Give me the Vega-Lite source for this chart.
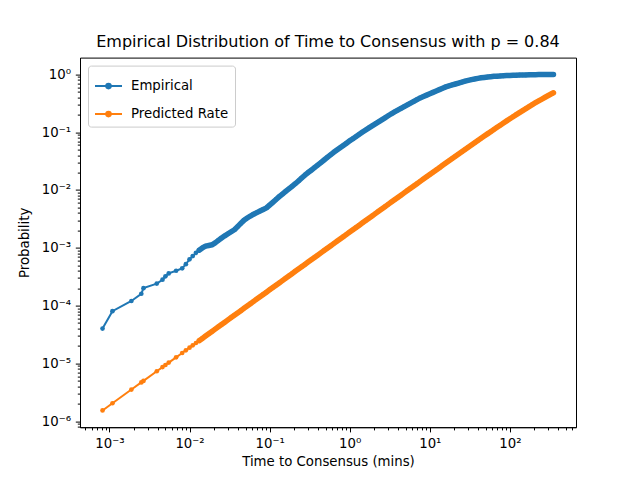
{
"$schema": "https://vega.github.io/schema/vega-lite/v6.json",
"width": 496, "height": 369.6,
"autosize": "none",
"padding": {"left": 80, "top": 57.6, "right": 64, "bottom": 52.8},
"title": {"text": "Empirical Distribution of Time to Consensus with p = 0.84", "fontSize": 16, "font": "DejaVu Sans", "fontWeight": "normal", "color": "black", "offset": 8},
"data": {"values": [
{"t":0.00082,"e":4e-5,"r":1.53e-6},
{"t":0.00109,"e":8e-5,"r":2.04e-6},
{"t":0.00188,"e":1.2e-4,"r":3.52e-6},
{"t":0.0025,"e":1.6e-4,"r":4.68e-6},
{"t":0.00266,"e":2e-4,"r":4.97e-6},
{"t":0.0039,"e":2.4e-4,"r":7.29e-6},
{"t":0.0046,"e":2.8e-4,"r":8.6e-6},
{"t":0.005,"e":3.2e-4,"r":9.35e-6},
{"t":0.0055,"e":3.6e-4,"r":1.03e-5},
{"t":0.0068,"e":4e-4,"r":1.27e-5},
{"t":0.0081,"e":4.4e-4,"r":1.51e-5},
{"t":0.009,"e":5.2e-4,"r":1.68e-5},
{"t":0.01,"e":6.31e-4,"r":1.87e-5},
{"t":0.010965,"e":7.18e-4,"r":2.05e-5},
{"t":0.012023,"e":8.17e-4,"r":2.25e-5},
{"t":0.013183,"e":9.1e-4,"r":2.47e-5},
{"t":0.014454,"e":9.95e-4,"r":2.7e-5},
{"t":0.015849,"e":1.067e-3,"r":2.96e-5},
{"t":0.017378,"e":1.094e-3,"r":3.25e-5},
{"t":0.019055,"e":1.125e-3,"r":3.56e-5},
{"t":0.020893,"e":1.217e-3,"r":3.91e-5},
{"t":0.022909,"e":1.34e-3,"r":4.28e-5},
{"t":0.025119,"e":1.476e-3,"r":4.7e-5},
{"t":0.027542,"e":1.61e-3,"r":5.15e-5},
{"t":0.0302,"e":1.746e-3,"r":5.65e-5},
{"t":0.033113,"e":1.892e-3,"r":6.19e-5},
{"t":0.036308,"e":2.05e-3,"r":6.79e-5},
{"t":0.039811,"e":2.32e-3,"r":7.44e-5},
{"t":0.043652,"e":2.64e-3,"r":8.16e-5},
{"t":0.047863,"e":3.0e-3,"r":8.95e-5},
{"t":0.052481,"e":3.27e-3,"r":9.81e-5},
{"t":0.057544,"e":3.54e-3,"r":1.076e-4},
{"t":0.063096,"e":3.81e-3,"r":1.18e-4},
{"t":0.069183,"e":4.06e-3,"r":1.294e-4},
{"t":0.075858,"e":4.32e-3,"r":1.419e-4},
{"t":0.083176,"e":4.6e-3,"r":1.555e-4},
{"t":0.091201,"e":4.9e-3,"r":1.705e-4},
{"t":0.1,"e":5.48e-3,"r":1.87e-4},
{"t":0.10965,"e":6.12e-3,"r":2.05e-4},
{"t":0.12023,"e":6.85e-3,"r":2.25e-4},
{"t":0.13183,"e":7.67e-3,"r":2.465e-4},
{"t":0.14454,"e":8.51e-3,"r":2.7e-4},
{"t":0.15849,"e":9.44e-3,"r":2.96e-4},
{"t":0.17378,"e":1.045e-2,"r":3.25e-4},
{"t":0.19055,"e":1.158e-2,"r":3.56e-4},
{"t":0.20893,"e":1.283e-2,"r":3.91e-4},
{"t":0.22909,"e":1.432e-2,"r":4.28e-4},
{"t":0.25119,"e":1.607e-2,"r":4.7e-4},
{"t":0.27542,"e":1.8e-2,"r":5.15e-4},
{"t":0.302,"e":2.0e-2,"r":5.65e-4},
{"t":0.33113,"e":2.2e-2,"r":6.19e-4},
{"t":0.36308,"e":2.43e-2,"r":6.79e-4},
{"t":0.39811,"e":2.69e-2,"r":7.44e-4},
{"t":0.43652,"e":2.98e-2,"r":8.16e-4},
{"t":0.47863,"e":3.3e-2,"r":8.95e-4},
{"t":0.52481,"e":3.66e-2,"r":9.81e-4},
{"t":0.57544,"e":4.05e-2,"r":1.076e-3},
{"t":0.63096,"e":4.48e-2,"r":1.18e-3},
{"t":0.69183,"e":4.91e-2,"r":1.293e-3},
{"t":0.75858,"e":5.38e-2,"r":1.418e-3},
{"t":0.83176,"e":5.89e-2,"r":1.554e-3},
{"t":0.91201,"e":6.46e-2,"r":1.704e-3},
{"t":1,"e":7.08e-2,"r":1.868e-3},
{"t":1.0965,"e":7.73e-2,"r":2.048e-3},
{"t":1.2023,"e":8.43e-2,"r":2.246e-3},
{"t":1.3183,"e":9.2e-2,"r":2.462e-3},
{"t":1.4454,"e":0.1005,"r":2.699e-3},
{"t":1.5849,"e":0.1094,"r":2.959e-3},
{"t":1.7378,"e":0.1189,"r":3.244e-3},
{"t":1.9055,"e":0.1288,"r":3.557e-3},
{"t":2.0893,"e":0.1395,"r":3.899e-3},
{"t":2.2909,"e":0.151,"r":4.274e-3},
{"t":2.5119,"e":0.1637,"r":4.686e-3},
{"t":2.7542,"e":0.1774,"r":5.137e-3},
{"t":3.02,"e":0.1923,"r":5.632e-3},
{"t":3.3113,"e":0.2084,"r":6.173e-3},
{"t":3.6308,"e":0.2244,"r":6.767e-3},
{"t":3.9811,"e":0.2404,"r":7.417e-3},
{"t":4.3652,"e":0.2582,"r":8.129e-3},
{"t":4.7863,"e":0.2767,"r":8.91e-3},
{"t":5.2481,"e":0.2972,"r":9.765e-3},
{"t":5.7544,"e":0.3184,"r":1.07e-2},
{"t":6.3096,"e":0.3412,"r":1.173e-2},
{"t":6.9183,"e":0.3664,"r":1.285e-2},
{"t":7.5858,"e":0.3917,"r":1.409e-2},
{"t":8.3176,"e":0.414,"r":1.543e-2},
{"t":9.1201,"e":0.4375,"r":1.691e-2},
{"t":10,"e":0.4624,"r":1.853e-2},
{"t":10.965,"e":0.4887,"r":2.03e-2},
{"t":12.023,"e":0.5164,"r":2.223e-2},
{"t":13.183,"e":0.5445,"r":2.435e-2},
{"t":14.454,"e":0.5754,"r":2.667e-2},
{"t":15.849,"e":0.6081,"r":2.92e-2},
{"t":17.378,"e":0.6339,"r":3.197e-2},
{"t":19.055,"e":0.6577,"r":3.5e-2},
{"t":20.893,"e":0.6823,"r":3.832e-2},
{"t":22.909,"e":0.7079,"r":4.194e-2},
{"t":25.119,"e":0.7345,"r":4.588e-2},
{"t":27.542,"e":0.7621,"r":5.02e-2},
{"t":30.2,"e":0.7889,"r":5.49e-2},
{"t":33.113,"e":0.8134,"r":6.004e-2},
{"t":36.308,"e":0.8333,"r":6.565e-2},
{"t":39.811,"e":0.8538,"r":7.175e-2},
{"t":43.652,"e":0.8721,"r":7.839e-2},
{"t":47.863,"e":0.8854,"r":8.562e-2},
{"t":52.481,"e":0.8991,"r":9.348e-2},
{"t":57.544,"e":0.9128,"r":0.102},
{"t":63.096,"e":0.9268,"r":0.1113},
{"t":69.183,"e":0.9333,"r":0.1214},
{"t":75.858,"e":0.9397,"r":0.1322},
{"t":83.176,"e":0.9462,"r":0.144},
{"t":91.201,"e":0.9528,"r":0.1568},
{"t":100,"e":0.9594,"r":0.1706},
{"t":109.65,"e":0.9661,"r":0.1854},
{"t":120.23,"e":0.9694,"r":0.2014},
{"t":131.83,"e":0.973,"r":0.2185},
{"t":144.54,"e":0.9763,"r":0.2368},
{"t":158.49,"e":0.9799,"r":0.2565},
{"t":173.78,"e":0.9833,"r":0.2775},
{"t":190.55,"e":0.9867,"r":0.2997},
{"t":208.93,"e":0.9895,"r":0.3234},
{"t":229.09,"e":0.9913,"r":0.3484},
{"t":251.19,"e":0.9931,"r":0.3748},
{"t":275.42,"e":0.9952,"r":0.4025},
{"t":302,"e":0.997,"r":0.4315},
{"t":331.13,"e":0.9989,"r":0.4616},
{"t":349.9,"e":1.0,"r":0.4802}
]},
"transform": [{"fold": ["e", "r"], "as": ["series", "prob"]}],
"encoding": {
  "x": {"field": "t", "type": "quantitative",
    "scale": {"type": "log", "domain": [0.000429, 669], "nice": false},
    "title": "Time to Consensus (mins)",
    "axis": {
      "values": [0.0005,0.0006,0.0007,0.0008,0.0009,0.001,0.002,0.003,0.004,0.005,0.006,0.007,0.008,0.009,0.01,0.02,0.03,0.04,0.05,0.06,0.07,0.08,0.09,0.1,0.2,0.3,0.4,0.5,0.6,0.7,0.8,0.9,1,2,3,4,5,6,7,8,9,10,20,30,40,50,60,70,80,90,100,200,300,400,500,600],
      "labelExpr": "abs(log(datum.value)/LN10 - round(log(datum.value)/LN10)) < 0.001 ? ['10⁻³','10⁻²','10⁻¹','10⁰','10¹','10²'][round(log(datum.value)/LN10)+3] : ''",
      "tickSize": {"condition": {"test": "abs(log(datum.value)/LN10 - round(log(datum.value)/LN10)) < 0.001", "value": 4.7}, "value": 2.7},
      "labelOverlap": false, "labelFlush": false, "titlePadding": 5
    }
  },
  "y": {"field": "prob", "type": "quantitative",
    "scale": {"type": "log", "domain": [7.85e-7, 1.953], "nice": false},
    "title": "Probability",
    "axis": {
      "values": [8e-7,9e-7,1e-6,2e-6,3e-6,4e-6,5e-6,6e-6,7e-6,8e-6,9e-6,1e-5,2e-5,3e-5,4e-5,5e-5,6e-5,7e-5,8e-5,9e-5,1e-4,2e-4,3e-4,4e-4,5e-4,6e-4,7e-4,8e-4,9e-4,1e-3,2e-3,3e-3,4e-3,5e-3,6e-3,7e-3,8e-3,9e-3,0.01,0.02,0.03,0.04,0.05,0.06,0.07,0.08,0.09,0.1,0.2,0.3,0.4,0.5,0.6,0.7,0.8,0.9,1],
      "labelExpr": "abs(log(datum.value)/LN10 - round(log(datum.value)/LN10)) < 0.001 ? ['10⁻⁶','10⁻⁵','10⁻⁴','10⁻³','10⁻²','10⁻¹','10⁰'][round(log(datum.value)/LN10)+6] : ''",
      "tickSize": {"condition": {"test": "abs(log(datum.value)/LN10 - round(log(datum.value)/LN10)) < 0.001", "value": 4.7}, "value": 2.7},
      "labelOverlap": false, "labelFlush": false, "titlePadding": 10
    }
  },
  "color": {"field": "series", "type": "nominal",
    "scale": {"domain": ["e", "r"], "range": ["#1f77b4", "#ff7f0e"]},
    "legend": {
      "title": null, "orient": "top-left", "offset": 8, "padding": 6,
      "fillColor": "rgba(255,255,255,0.8)", "strokeColor": "#cccccc", "cornerRadius": 3,
      "labelExpr": "datum.label == 'e' ? 'Empirical' : 'Predicted Rate'",
      "labelFont": "DejaVu Sans", "labelFontSize": 13.3, "labelColor": "black",
      "symbolType": "M-1,0L1,0M-0.17,0A0.17,0.17,0,1,0,0.17,0A0.17,0.17,0,1,0,-0.17,0Z",
      "symbolSize": 729, "symbolStrokeWidth": 2, "rowPadding": 7, "labelOffset": 8,
      "encode": {"symbols": {"update": {"fill": {"scale": "color", "field": "value"}, "stroke": {"scale": "color", "field": "value"}, "opacity": {"value": 1}}}}
    }
  }
},
"layer": [
  {"mark": {"type": "line", "strokeWidth": 2, "point": {"filled": true, "size": 22, "opacity": 1}}},
  {"transform": [{"filter": "datum.t >= 0.0125"}],
   "mark": {"type": "line", "strokeWidth": 5.5, "strokeCap": "round", "strokeJoin": "round"}}
],
"config": {
  "font": "DejaVu Sans",
  "view": {"stroke": "black", "strokeWidth": 1},
  "axis": {"labelFont": "DejaVu Sans", "labelFontSize": 13.3, "labelColor": "black", "titleFont": "DejaVu Sans", "titleFontSize": 13.3, "titleFontWeight": "normal", "titleColor": "black", "domainColor": "black", "tickColor": "black", "grid": false, "tickWidth": 1, "domainWidth": 1, "labelPadding": 4.7}
}
}
